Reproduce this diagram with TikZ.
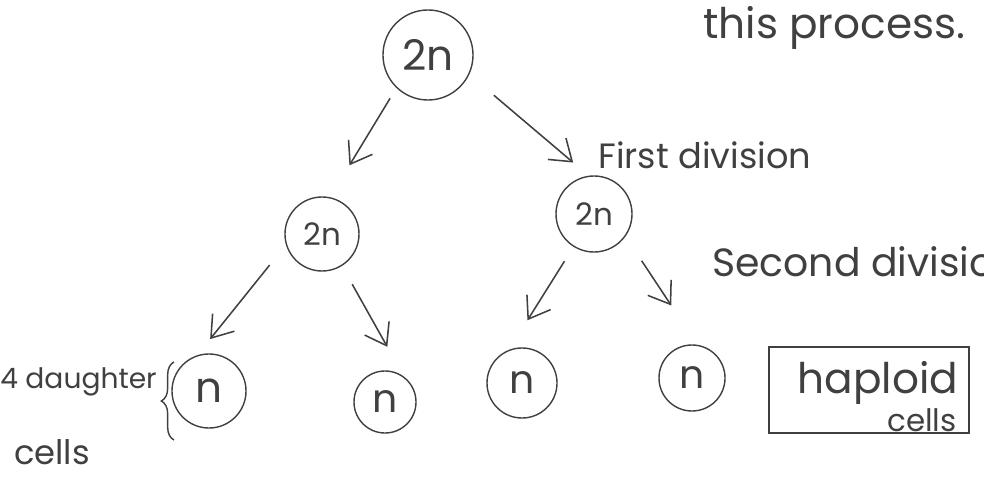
\documentclass[tikz,border=0pt]{standalone}
\usepackage{fontspec}
\setmainfont{Poppins}
\usepackage{graphicx}
\usepackage{tikz}
\usetikzlibrary{arrows.meta, decorations.pathreplacing}
\definecolor{pencil}{gray}{0.25}
\newcommand{\fsz}[1]{\fontsize{#1}{#1}\selectfont}
\tikzset{
    cell/.style={circle, draw=pencil, line width=1pt, inner sep=0pt, outer sep=0pt, text=pencil}, % one cell
    split/.style={draw=pencil, line width=1.1pt, -{Straight Barb[length=0.5cm, width=0.7cm, line width=1.1pt]}}, % division arrow
    note/.style={text=pencil, inner sep=0pt} % written notes
}

\begin{document}
\begin{tikzpicture}[x=0.025cm, y=0.025cm]
    \useasboundingbox (0,0) rectangle (984,-478);

    % cells
    \node[cell, minimum size=2.25cm, font=\fsz{30}] (zygote) at (428,-55) {2n};
    \node[cell, minimum size=1.85cm, font=\fsz{22}] (cellA) at (322,-234) {2n};
    \node[cell, minimum size=1.9cm, font=\fsz{22}] (cellB) at (594,-214) {2n};
    \node[cell, minimum size=1.85cm, font=\fsz{30}] (cellAa) at (209,-391) {n};
    \node[cell, minimum size=1.55cm, font=\fsz{28}] (cellAb) at (385,-402) {n};
    \node[cell, minimum size=1.75cm, font=\fsz{28}] (cellBa) at (522,-383) {n};
    \node[cell, minimum size=1.65cm, font=\fsz{28}] (cellBb) at (692,-378) {n};

    % arrows
    \draw[split, shorten <=0.32cm, shorten >=0.95cm] (zygote.226) -- (cellA.78);
    \draw[split, shorten <=0.82cm, shorten >=0.53cm] (zygote.-25) -- (cellB.97);
    \draw[split, shorten <=0.67cm, shorten >=0.55cm] (cellA.196) -- (cellAa.110);
    \draw[split, shorten <=0.54cm, shorten >=0.9cm] (cellA.-58) -- (cellAb.50);
    \draw[split, shorten <=0.44cm, shorten >=0.9cm] (cellB.238) -- (cellBa.113);
    \draw[split, shorten <=0.75cm, shorten >=1.2cm] (cellB.-35) -- (cellBb.80);

    % notes
    \node[note, anchor=west, font=\fsz{30}] (process) at (703,-28) {this process.};
    \node[note, anchor=west, font=\fsz{25}] (first) at (598,-155) {First division};
    \node[note, anchor=west, font=\fsz{28}] (second) at (712,-262) {Second division};

    \node[draw=pencil, line width=1pt, minimum width=5cm, minimum height=2.15cm] (box) at (869,-390) {};
    \node[note, font=\fsz{30}] (haploid) at (878,-383) {haploid};
    \node[note, font=\fsz{22}] (boxcells) at (922,-420) {cells};

    \node[note, anchor=west, font=\fsz{20}] (daughter) at (0,-382) {4 daughter};
    \node[note, anchor=west, font=\fsz{24}] (cells) at (14,-452) {cells};
    \coordinate (braceLow) at (174,-440);
    \coordinate (braceHigh) at (174,-362);
    \draw[pencil, line width=1pt, decorate, decoration={brace, amplitude=9pt}] (braceLow) -- (braceHigh);
\end{tikzpicture}
\end{document}
